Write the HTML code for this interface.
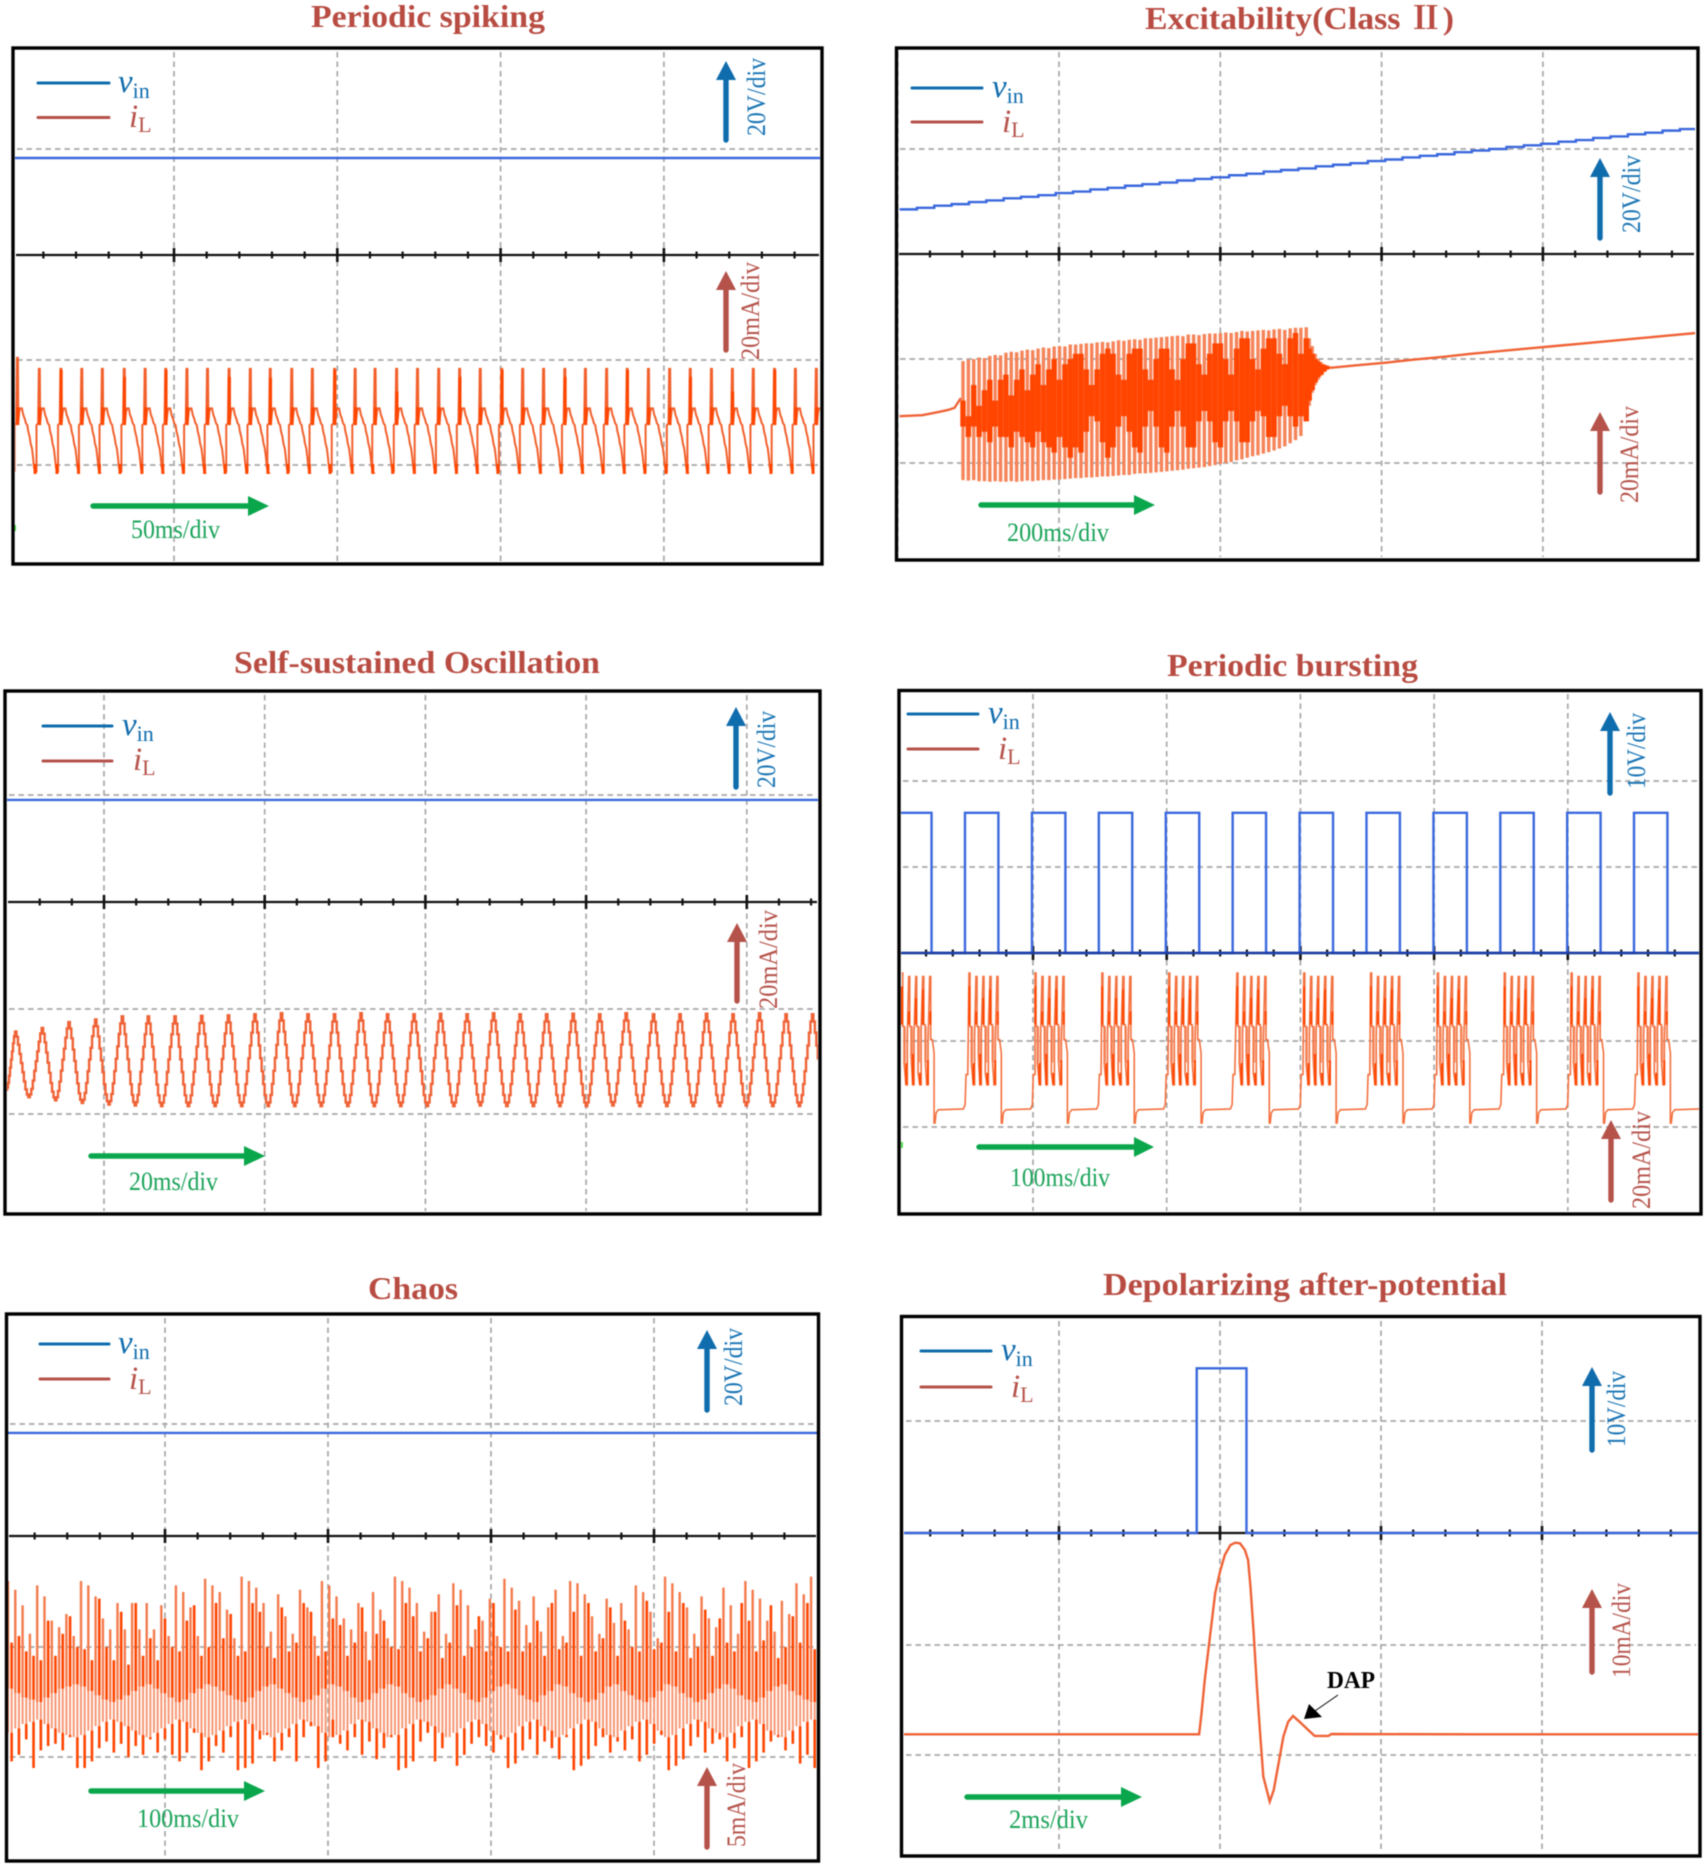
<!DOCTYPE html>
<html lang="en">
<head>
<meta charset="utf-8">
<title>Neuron-like oscilloscope waveforms</title>
<style>
html,body{margin:0;padding:0;background:#fff;}
svg{display:block;filter:blur(0.55px);}
text{font-family:"Liberation Serif","Noto Serif CJK SC",serif;}
.title{font-size:32px;font-weight:bold;fill:#b84c42;}
.frame{fill:none;stroke:#000;stroke-width:3.4;}
.leg{stroke-width:3;stroke-linecap:round;}
.blue{stroke:#0f6cad;fill:#0f6cad;}
.red{stroke:#b5524a;fill:#b5524a;}
.green{stroke:#0aa64c;fill:#0aa64c;}
.sym{font-size:33px;font-style:italic;}
.sub{font-size:22px;font-style:normal;}
.shaft{stroke-width:5.4;stroke-linecap:round;}
.head{stroke:none;}
.lbl{font-size:26px;}
.grid{fill:none;stroke:#a8a8a8;stroke-width:1.7;stroke-dasharray:5.5 4;}
.axis{fill:none;stroke:#111;stroke-width:2.2;}
.tick{fill:none;stroke:#111;stroke-width:2.2;}
.tick-major{fill:none;stroke:#111;stroke-width:2.6;}
.vin{fill:none;stroke:#3a68dd;stroke-width:2.4;}
.vin-low{fill:none;stroke:#1c3fa6;stroke-width:2.6;}
.il{fill:none;stroke:#f2602c;stroke-width:2;}
.il-wide{fill:none;stroke:#ef6236;stroke-width:2.4;}
.il-burst{fill:none;stroke:#f3713f;stroke-width:1.6;}
.il-burst-dark{fill:none;stroke:#ff4500;stroke-width:2;}
.il-burst-mid{fill:none;stroke:#f58a60;stroke-width:1.6;}
.il-thick{fill:none;stroke:#ff4500;stroke-width:3;}
.il-light{fill:none;stroke:#f5845a;stroke-width:3.4;}
.il-fill{fill:none;stroke:#ff4500;stroke-width:5.4;}
.il-dark{fill:none;stroke:#ff4500;stroke-width:2.6;}
.il-chaos{fill:none;stroke:#f47a4c;stroke-width:2.4;}
.il-chaos-mid{fill:none;stroke:#f69470;stroke-width:1.9;}
.mark{stroke:#55e055;stroke-width:2;}
</style>
</head>
<body>
<svg width="1705" height="1866" viewBox="0 0 1705 1866">
<defs>
<clipPath id="clip-a"><rect x="15" y="50" width="805" height="512"/></clipPath>
<clipPath id="clip-b"><rect x="898" y="50" width="797" height="508"/></clipPath>
<clipPath id="clip-c"><rect x="7" y="693" width="811" height="519"/></clipPath>
<clipPath id="clip-d"><rect x="901" y="692" width="798" height="520"/></clipPath>
<clipPath id="clip-e"><rect x="8" y="1316" width="809" height="543"/></clipPath>
<clipPath id="clip-f"><rect x="904" y="1319" width="794" height="535"/></clipPath>
</defs>

<g>
<text class="title" x="311" y="27" textLength="234" lengthAdjust="spacingAndGlyphs">Periodic spiking</text>
<g id="a-scope"></g>
<g id="a-trace" clip-path="url(#clip-a)"></g>
<line class="mark" x1="15" y1="525" x2="15" y2="531"/>
<rect class="frame" x="13" y="48" width="809" height="516"/>
<g>
<line class="leg blue" x1="38" y1="83" x2="109" y2="83"/>
<line class="leg red" x1="38" y1="117.5" x2="109" y2="117.5"/>
<text class="sym" x="118" y="92" fill="#0f6cad">v<tspan class="sub" dy="6">in</tspan></text>
<text class="sym" x="129" y="127" fill="#b5524a">i<tspan class="sub" dy="5">L</tspan></text>
</g>
<g><line class="shaft blue" x1="726" y1="140" x2="726" y2="80"/><polygon class="head blue" points="726,61 716,80 736,80"/></g>
<text class="lbl" transform="translate(765,136) rotate(-90)" fill="#1a75b5" textLength="78" lengthAdjust="spacingAndGlyphs">20V/div</text>
<g><line class="shaft red" x1="726" y1="350" x2="726" y2="290"/><polygon class="head red" points="726,271 716,290 736,290"/></g>
<text class="lbl" transform="translate(759,360) rotate(-90)" fill="#b5524a" textLength="98" lengthAdjust="spacingAndGlyphs">20mA/div</text>
<g><line class="shaft green" x1="93" y1="506" x2="248" y2="506"/><polygon class="head green" points="269,506 248,496 248,516"/></g>
<text class="lbl" x="131" y="538" fill="#1ba35a" textLength="89" lengthAdjust="spacingAndGlyphs">50ms/div</text>
</g>

<g>
<text class="title" x="1145" y="29" textLength="309" lengthAdjust="spacingAndGlyphs">Excitability(Class Ⅱ)</text>
<g id="b-scope"></g>
<g id="b-trace" clip-path="url(#clip-b)"></g>
<rect class="frame" x="896.5" y="48" width="801.5" height="512"/>
<g>
<line class="leg blue" x1="912" y1="88" x2="982" y2="88"/>
<line class="leg red" x1="912" y1="122" x2="982" y2="122"/>
<text class="sym" x="992" y="97" fill="#0f6cad">v<tspan class="sub" dy="6">in</tspan></text>
<text class="sym" x="1002" y="132" fill="#b5524a">i<tspan class="sub" dy="5">L</tspan></text>
</g>
<g><line class="shaft blue" x1="1600" y1="238" x2="1600" y2="177"/><polygon class="head blue" points="1600,158 1590,177 1610,177"/></g>
<text class="lbl" transform="translate(1640,233) rotate(-90)" fill="#1a75b5" textLength="78" lengthAdjust="spacingAndGlyphs">20V/div</text>
<g><line class="shaft red" x1="1600" y1="492" x2="1600" y2="431"/><polygon class="head red" points="1600,412 1590,431 1610,431"/></g>
<text class="lbl" transform="translate(1638,503) rotate(-90)" fill="#b5524a" textLength="97" lengthAdjust="spacingAndGlyphs">20mA/div</text>
<g><line class="shaft green" x1="981" y1="505" x2="1134" y2="505"/><polygon class="head green" points="1155,505 1134,495 1134,515"/></g>
<text class="lbl" x="1007" y="541" fill="#1ba35a" textLength="102" lengthAdjust="spacingAndGlyphs">200ms/div</text>
</g>

<g>
<text class="title" x="234" y="673" textLength="366" lengthAdjust="spacingAndGlyphs">Self-sustained Oscillation</text>
<g id="c-scope"></g>
<g id="c-trace" clip-path="url(#clip-c)"></g>
<rect class="frame" x="5" y="691" width="815" height="523"/>
<g>
<line class="leg blue" x1="43" y1="726" x2="112" y2="726"/>
<line class="leg red" x1="43" y1="761" x2="112" y2="761"/>
<text class="sym" x="122" y="735" fill="#0f6cad">v<tspan class="sub" dy="6">in</tspan></text>
<text class="sym" x="133" y="770" fill="#b5524a">i<tspan class="sub" dy="5">L</tspan></text>
</g>
<g><line class="shaft blue" x1="736" y1="787" x2="736" y2="726"/><polygon class="head blue" points="736,707 726,726 746,726"/></g>
<text class="lbl" transform="translate(775,788) rotate(-90)" fill="#1a75b5" textLength="77" lengthAdjust="spacingAndGlyphs">20V/div</text>
<g><line class="shaft red" x1="737" y1="1001" x2="737" y2="942"/><polygon class="head red" points="737,923 727,942 747,942"/></g>
<text class="lbl" transform="translate(777,1009) rotate(-90)" fill="#b5524a" textLength="99" lengthAdjust="spacingAndGlyphs">20mA/div</text>
<g><line class="shaft green" x1="91" y1="1156" x2="244" y2="1156"/><polygon class="head green" points="265,1156 244,1146 244,1166"/></g>
<text class="lbl" x="129" y="1190" fill="#1ba35a" textLength="89" lengthAdjust="spacingAndGlyphs">20ms/div</text>
</g>

<g>
<text class="title" x="1167" y="676" textLength="251" lengthAdjust="spacingAndGlyphs">Periodic bursting</text>
<g id="d-scope"></g>
<g id="d-trace" clip-path="url(#clip-d)"></g>
<line class="mark" x1="902" y1="1142" x2="902" y2="1148"/>
<rect class="frame" x="899" y="690.5" width="802" height="523.5"/>
<g>
<line class="leg blue" x1="908" y1="714" x2="978" y2="714"/>
<line class="leg red" x1="908" y1="749" x2="978" y2="749"/>
<text class="sym" x="988" y="723" fill="#0f6cad">v<tspan class="sub" dy="6">in</tspan></text>
<text class="sym" x="998" y="759" fill="#b5524a">i<tspan class="sub" dy="5">L</tspan></text>
</g>
<g><line class="shaft blue" x1="1610" y1="793" x2="1610" y2="731"/><polygon class="head blue" points="1610,712 1600,731 1620,731"/></g>
<text class="lbl" transform="translate(1645,789) rotate(-90)" fill="#1a75b5" textLength="76" lengthAdjust="spacingAndGlyphs">10V/div</text>
<g><line class="shaft red" x1="1611" y1="1200" x2="1611" y2="1139"/><polygon class="head red" points="1611,1120 1601,1139 1621,1139"/></g>
<text class="lbl" transform="translate(1650,1209) rotate(-90)" fill="#b5524a" textLength="98" lengthAdjust="spacingAndGlyphs">20mA/div</text>
<g><line class="shaft green" x1="979" y1="1147" x2="1134" y2="1147"/><polygon class="head green" points="1154,1147 1134,1137 1134,1157"/></g>
<text class="lbl" x="1010" y="1186" fill="#1ba35a" textLength="100" lengthAdjust="spacingAndGlyphs">100ms/div</text>
</g>

<g>
<text class="title" x="368" y="1299" textLength="90" lengthAdjust="spacingAndGlyphs">Chaos</text>
<g id="e-scope"></g>
<g id="e-trace" clip-path="url(#clip-e)"></g>
<rect class="frame" x="6.5" y="1314" width="812" height="547"/>
<g>
<line class="leg blue" x1="40" y1="1344" x2="109" y2="1344"/>
<line class="leg red" x1="40" y1="1379" x2="109" y2="1379"/>
<text class="sym" x="118" y="1353" fill="#0f6cad">v<tspan class="sub" dy="6">in</tspan></text>
<text class="sym" x="129" y="1389" fill="#b5524a">i<tspan class="sub" dy="5">L</tspan></text>
</g>
<g><line class="shaft blue" x1="707" y1="1410" x2="707" y2="1349"/><polygon class="head blue" points="707,1330 697,1349 717,1349"/></g>
<text class="lbl" transform="translate(742,1406) rotate(-90)" fill="#1a75b5" textLength="78" lengthAdjust="spacingAndGlyphs">20V/div</text>
<g><line class="shaft red" x1="707" y1="1847" x2="707" y2="1786"/><polygon class="head red" points="707,1767 697,1786 717,1786"/></g>
<text class="lbl" transform="translate(745,1847) rotate(-90)" fill="#b5524a" textLength="84" lengthAdjust="spacingAndGlyphs">5mA/div</text>
<g><line class="shaft green" x1="91" y1="1791" x2="244" y2="1791"/><polygon class="head green" points="265,1791 244,1781 244,1801"/></g>
<text class="lbl" x="137" y="1827" fill="#1ba35a" textLength="102" lengthAdjust="spacingAndGlyphs">100ms/div</text>
</g>

<g>
<text class="title" x="1103" y="1295" textLength="404" lengthAdjust="spacingAndGlyphs">Depolarizing after-potential</text>
<g id="f-scope"></g>
<g id="f-trace" clip-path="url(#clip-f)"></g>
<rect class="frame" x="901.5" y="1316.5" width="798.5" height="539.5"/>
<g>
<line class="leg blue" x1="921" y1="1351" x2="991" y2="1351"/>
<line class="leg red" x1="921" y1="1387" x2="991" y2="1387"/>
<text class="sym" x="1001" y="1360" fill="#0f6cad">v<tspan class="sub" dy="6">in</tspan></text>
<text class="sym" x="1011" y="1397" fill="#b5524a">i<tspan class="sub" dy="5">L</tspan></text>
</g>
<g><line class="shaft blue" x1="1592" y1="1450" x2="1592" y2="1386"/><polygon class="head blue" points="1592,1367 1582,1386 1602,1386"/></g>
<text class="lbl" transform="translate(1625,1447) rotate(-90)" fill="#1a75b5" textLength="76" lengthAdjust="spacingAndGlyphs">10V/div</text>
<g><line class="shaft red" x1="1592" y1="1672" x2="1592" y2="1608"/><polygon class="head red" points="1592,1589 1582,1608 1602,1608"/></g>
<text class="lbl" transform="translate(1630,1678) rotate(-90)" fill="#b5524a" textLength="95" lengthAdjust="spacingAndGlyphs">10mA/div</text>
<g><line class="shaft green" x1="967" y1="1797" x2="1121" y2="1797"/><polygon class="head green" points="1142,1797 1121,1787 1121,1807"/></g>
<text class="lbl" x="1009" y="1828" fill="#1ba35a" textLength="79" lengthAdjust="spacingAndGlyphs">2ms/div</text>
<text x="1327" y="1688" font-size="24" font-weight="bold" fill="#000" textLength="48" lengthAdjust="spacingAndGlyphs">DAP</text>
<g><line x1="1338" y1="1695" x2="1312" y2="1713" stroke="#000" stroke-width="1"/><polygon points="1304,1719 1309,1704 1322,1717" fill="#000"/></g>
</g>
</svg>

<script>
/* ---------- Periodic spiking: times in ms, currents in mA, voltage in V ---------- */
const spikingVinVolts = 18.3;
const spikingTimes = [0.7,7.4,14,20.4,26.7,33.4,39.8,46.1,52.6,58.9,65.5,72,78.1,84.7,91,97.8,104.1,110.2,116.8,123.2,129.7,136.1,142.4,149,155.4,161.8,168.3,174.6,181.1,187.4,193.9,200.4,206.7,213.2,219.6,226,232.5,238.9,245.3,251.8];
const spikingTops = [20.4,18.3,18.3,18.3,18.3,18.3,18.3,18.3,18.3,18.3,18.3,18.3,18.3,18.3,18.3,18.3,18.3,18.3,18.3,18.3,18.3,18.3,18.3,18.3,18.3,18.3,18.3,18.3,18.3,18.3,18.3,18.3,18.3,18.3,18.3,18.3,18.3,18.3,18.3,18.3];
const spikingThickTops = [11,11,18.1,11,11,16.8,11,18.1,11,11,16.8,11,16.6,11,11,18.1,11,11,14,11,11,16.8,11,18.1,11,11,16.8,11,11,18.1,11,11,16.8,11,14,11,18.1,11,11,16.8];
const spikeShapeMs = [-0.82,-0.82,-0.31,-0.1,0.2,0.31,0.61,0.92,1.43,1.84,2.24,2.65,3.06,3.37,3.78,4.08,4.49,4.8,5.1,5.41,5.61];
const spikeShapeMa = [-1.27,7.62,7.94,null,null,8.25,10.16,10.79,10.79,9.52,8.89,7.94,7.62,6.35,5.4,4.13,3.17,1.59,-0.32,-1.46,-1.46];

/* ---------- Excitability (Class II) ---------- */
const rampVinVolts = [8.5,8.8,9.2,9.5,9.9,10.2,10.6,10.9,11.2,11.6,11.9,12.3,12.6,13,13.3,13.6,14,14.3,14.6,15,15.3,15.7,16,16.3,16.7,17,17.3,17.7,18,18.4,18.7,19,19.4,19.7,20,20.4,20.7,21,21.4,21.7,22.1,22.4,22.8,23.1,23.5,23.8,24.2];
const rampVinStepMs = 21.5;
const restBeforeMs = [2,30,50,62,70,78];
const restBeforeMa = [9,9.2,9.8,10.2,10.6,12.5];
const restAfterMs = [536,570,605,640,675,710,745,780,815,850,885,920,955,990];
const restAfterMa = [18.3,18.8,19.3,19.9,20.4,21,21.5,22,22.5,23,23.5,24,24.5,25];
const classTwoTops = [19.6,19.9,20,20.3,20.2,20.6,20.8,20.7,21.2,21.4,21.3,21.6,21.8,21.7,22,22.2,22.1,22.4,22.5,22.4,22.8,22.8,22.9,23,23,23.2,23.3,23.2,23.4,23.6,23.5,23.7,23.8,23.7,24,24,24.1,24.2,24.3,24.4,24.5,24.4,24.7,24.7,24.6,24.8,24.9,24.9,25,25.1,25,25.2,25.4,25.3,25.4,25.5,25.6,25.5,25.7,25.8,25.6,25.9,26,26,26.1,24,22.5,21,20,19.4,19,18.8,18.6];
const classTwoBottoms = [-3.3,-3.4,-3.3,-3.5,-3.5,-3.6,-3.5,-3.6,-3.6,-3.5,-3.6,-3.5,-3.4,-3.5,-3.4,-3.3,-3.3,-3.2,-3.2,-3.1,-3,-2.9,-2.9,-2.8,-2.8,-2.7,-2.6,-2.6,-2.5,-2.4,-2.3,-2.3,-2.1,-2,-2,-1.9,-1.8,-1.7,-1.6,-1.5,-1.4,-1.3,-1.1,-1,-0.9,-0.8,-0.6,-0.4,-0.2,0,0.2,0.5,0.7,1,1.3,1.5,1.8,2.1,2.4,2.8,3.2,3.8,4.4,5.2,8,11,13.5,15,16,16.8,17.5,18,18.3];
const classTwoInnerTops = [12,9,15,11,14,16,12,16,17,13,16,18,14,17,19,15,18,20,16,19,20,21,21,18,15,18,21,22,21,17,16,21,22,22,18,16,20,22,22,18,16,20,23,23,19,17,21,23,23,20,17,22,24,24,20,18,22,24,24,21,19,24,25,21,24,22,21,20,19.5,19,18.8,18.6,18.4];
const classTwoInnerBottoms = [7,5,7,5,6,4,7,5,5,3,6,5,4,3,6,4,3,2,5,3,1,3,2,6,9,8,4,1,3,7,9,6,3,2,7,10,7,3,2,7,10,7,3,3,8,10,8,4,3,8,10,8,4,4,8,10,9,5,5,9,11,9,7,9,8,12,14,15.5,16.5,17,17.6,18,18.3];
const classTwoStartMs = 80.6;
const classTwoPeriodMs = 6.65;
const classTwoDecayPeriodMs = 3.7;
const classTwoSteadySpikes = 64;

/* ---------- Self-sustained oscillation ---------- */
const oscillationVinVolts = 19.07;
const oscillationStartMa = 4.6;
const oscillationPeakMs = [1.12,4.44,7.76,11.08,14.4,17.63,20.95,24.27,27.6,30.9,34.2,37.5,40.8,44.1,47.4,50.7,54,57.3,60.6,63.9,67.2,70.5,73.8,77.1,80.5,83.8,87.1,90.4,93.7,97,100.3,103.6];
const oscillationPeakMa = [15.7,16.4,17.5,18,18.6,18.6,18.6,18.7,18.8,19,19.2,19,19,19.2,19,19,19.1,19,19.2,19,19,19.1,19,19.2,19,19,19.1,19,19.2,19,19,19];
const oscillationTroughMa = [3.2,2.6,2.1,1.8,1.6,1.5,1.5,1.5,1.5,1.5,1.5,1.5,1.5,1.5,1.5,1.5,1.5,1.6,1.5,1.5,1.5,1.5,1.6,1.5,1.5,1.5,1.5,1.6,1.5,1.5,1.5,1.5];
const oscillationCycleShape = [1,0.92,0.8,0.66,0.52,0.38,0.24,0.12,0.04,0];

/* ---------- Periodic bursting ---------- */
const pulseStartMs = [-1.4,48.6,98.7,148.7,198.8,248.8,298.9,348.9,399,449,499,549];
const pulseEndMs = [23.6,73.6,123.7,173.7,223.8,273.8,323.9,373.9,424,474,524,574];
const pulseHighVolts = 16.3;
const burstStartMs = [1.3,51.6,101,151,201,252,302,352,402,452,502,552];
const burstShapeMs = [0,0.75,0.75,1.75,1.75,3.2,4.2,4.2,5.2,6,6,7,7,8.2,9.2,9.2,10.5,11.2,11.2,12.2,12.2,13.5,14.5,14.5,15.7,16.5,16.5,17.5,17.5,18.7,19.7,19.7,20.9,21.7,21.7,22.9,24.2,24.2,24.9,25.7,27.4,46.1,47.4,48.1,49.4];
const burstShapeMa = [35.8,35.8,23.4,23.4,14.9,9.8,9.8,21.1,35,35,23.4,23.4,16.4,9.8,9.8,21.9,35,35,23.4,23.4,12.6,9.8,9.8,22.6,35,35,23.8,23.8,15.7,9.8,9.8,19.5,35,35,20.3,20.3,17.2,0.9,0.9,3.3,4,4.2,5.2,12.2,12.2];
const burstDarkMs = [0.2,5.4,10.7,15.9,21.5,3.4,8.4,13.7,19.6];
const burstDarkTopMa = [32.7,26.9,30,32,26.9,14.9,17,12.6,15.5];
const burstDarkBottomMa = [23.8,23.8,23.8,23.8,23.8,9.8,9.8,9.8,9.8];
const burstMidMs = [2.5,7.8,13,18.2];
const burstMidTopMa = [23.4,23.4,23.4,23.4];
const burstMidBottomMa = [15,15,15,15];

/* ---------- Chaos ---------- */
const chaosVinVolts = 18.4;
const chaosPeriodMs = 4.49;
const chaosCentreMa = 2.1;
const chaosTops = [8,7.6,6.9,5.6,7.8,7.3,6.2,5.9,6.5,5.5,8,7.8,7.3,6.3,5.8,7,5.8,7,5.8,7,5.8,6.9,5.5,7.8,7.5,6.8,5.5,8.1,7.8,7.5,6.7,5.4,8.2,8,7.7,7,5.7,7.4,6.4,5.6,7.6,6.8,5.5,8,7.8,7.3,6.3,5.8,7,5.7,7.5,6.7,5.4,8.2,8,7.7,7,5.7,6.6,7.4,5.6,7.9,7.6,6.9,5.8,6.2,7.2,5.5,8.1,7.7,7.1,6,7.3,5.7,6.8,7.6,5.5,8,7.9,7.4,6.4,5.6,7.2,6.1,7,5.8,7.8,7.5,6.6,5.4,8.2,7.9,7.5,6.8,5.6,7.3,6.3,5.9,7.7,6.9,5.6,8,7.6,7.2,6.2,5.7,7.1,6.5,7.9,7.4,8.2];
const chaosBottoms = [-0.2,0.1,0.8,-0.5,0.3,0.5,0.6,0.3,0.9,-0.5,-0.5,-0.2,0.4,0.7,0.2,0.6,0,0.5,0.1,0.8,0.2,0.8,0.1,-0.2,0.2,1.1,-0.6,-0.2,0.5,0.2,0.9,-0.6,-0.5,-0.3,0.8,1.1,-0.2,0.3,0.9,-0.2,0.9,1.4,-0.5,-0.2,1.7,0.6,0.3,0.9,0.1,0.7,-0.1,0.4,1,-0.6,-0.5,-0.2,0.7,1.1,-0.2,0.4,0.9,-0.4,0.1,0.6,0.9,0.5,0.2,0.8,-0.5,-0.3,0.3,0.8,0.1,0.7,0.4,-0.1,0.9,-0.6,-0.4,-0.1,0.5,0.9,0.2,0.7,0.3,0.8,-0.2,0.1,0.6,1,-0.6,-0.4,-0.1,0.5,0.9,0.2,0.6,0.8,-0.2,0.4,0.9,-0.5,-0.2,0.2,0.7,0.9,0.3,0.6,-0.3,0.1,-0.5];
const chaosDarkTops = [5.2,5.5,4.8,4.6,4.4,6.2,4.6,5.6,6.4,5,4.9,4.4,7.2,5,4.4,6.6,4.2,7,4.6,5.4,4.4,6.3,5,4.8,6.2,6.9,4.6,5,7,5.4,6.5,4.6,4.8,7,6.6,5,4.5,6.8,4.8,5.2,7,6.6,4.6,4.8,6.3,6,4.6,5.2,6.8,4.4,5.6,6.2,5,4.9,7,6.4,4.8,5.4,6.6,4.5,5.2,6.9,4.6,5,6.4,4.8,7,5,4.8,6.7,4.8,5.2,6.2,4.6,7,4.9,5.2,6.6,4.6,7,4.8,5.4,6.8,4.6,6.2,5,4.8,7.1,4.9,5.2,6.6,4.8,7,4.5,5,6.7,4.6,6.3,5.2,4.8,7,6.2,4.8,5.3,6.9,4.5,5,6.4,5.2,7,4.9];
const chaosMidHighs = [3.1,2.9,2.7,2.6,2.5,2.7,2.9,3.1,3.2,3.3,3.2,3,2.8,2.6,2.5,2.6,2.8,3,3.2,3.3,3.1,2.9,2.7,2.5,2.6,2.9,3.1,3.3,3.2,3,2.8,2.6,2.5,2.7,3,3.2,3.3,3.1,2.9,2.7,2.5,2.6,2.8,3.1,3.3,3.2,3,2.7,2.5,2.6,2.9,3.1,3.3,3.2,2.9,2.7,2.5,2.6,2.8,3.1,3.3,3.1,2.9,2.6,2.5,2.7,3,3.2,3.3,3.1,2.8,2.6,2.5,2.8,3,3.3,3.2,2.9,2.7,2.5,2.6,2.9,3.2,3.3,3,2.8,2.6,2.5,2.7,3,3.3,3.2,2.9,2.7,2.5,2.6,2.9,3.1,3.3,3.1,2.8,2.6,2.5,2.7,3,3.2,3.3,3,2.8,2.6,2.5];

/* ---------- Depolarizing after-potential ---------- */
const dapVinMs = [0,3.66,3.66,4.28,4.28,9.93];
const dapVinVolts = [0,0,14.7,14.7,0,0];
const dapCurrentMs = [0,3.45,3.69,3.72,3.76,3.81,3.85,3.89,3.95,4.01,4.08,4.14,4.2,4.26,4.3,4.33,4.37,4.41,4.45,4.49,4.57,4.62,4.68,4.74,4.8,4.86,4.94,5.05,5.13,5.3,5.34,7.19,9.93];
const dapCurrentMa = [1.88,1.88,1.88,3.79,6.82,9.85,12.27,14.7,16.67,18.18,19.09,19.3,19.24,18.64,17.73,15.3,11.06,6.21,1.97,-1.97,-4.24,-3.18,-0.76,1.67,3.03,3.55,3.03,2.27,1.73,1.73,1.91,1.88,1.88];

/* ---------- Axis functions ---------- */
const xA = t => 15 + t * 3.266;
const yAi = i => 465 - i * 5.25;
const yAv = v => 255 - v * 5.3;
const xB = t => 898 + t * 0.8065;
const yBi = i => 463 - i * 5.2;
const yBv = v => 254 - v * 5.25;
const xC = t => 6 + t * 8.035;
const yCi = i => 1114 - i * 5.25;
const yCv = v => 902 - v * 5.35;
const xD = t => 900 + t * 1.337;
const yDi = i => 1127 - i * 4.3;
const yDv = v => 953 - v * 8.6;
const xE = t => 8 + t * 1.626;
const yEi = i => 1757 - i * 22;
const yEv = v => 1536 - v * 5.6;
const xF = t => 903 + t * 80.25;
const yFi = i => 1755 - i * 11;
const yFv = v => 1533 - v * 11.2;

const SVG_NS = 'http://www.w3.org/2000/svg';

function addPath(group, d, cls, name) {
  const el = document.createElementNS(SVG_NS, 'path');
  el.setAttribute('d', d);
  el.setAttribute('class', cls);
  
  
  group.appendChild(el);
  return el;
}

function fx(n) { return n.toFixed(2); }

function stairs(xs, ys) {
  let d = 'M' + fx(xs[0]) + ' ' + fx(ys[0]);
  for (let i = 1; i < xs.length; i++) {
    d += 'H' + fx(xs[i]) + 'V' + fx(ys[i]);
  }
  return d;
}

function polyline(xs, ys) {
  let d = 'M' + fx(xs[0]) + ' ' + fx(ys[0]);
  for (let i = 1; i < xs.length; i++) {
    d += 'L' + fx(xs[i]) + ' ' + fx(ys[i]);
  }
  return d;
}

function drawScope(id, left, right, top, bottom, axisY, originX, divPx, gridYs) {
  const g = document.getElementById(id);
  gridYs.forEach(function (y) {
    addPath(g, 'M' + (left + 3) + ' ' + y + 'H' + (right - 3), 'grid', 'horizontal-grid-line');
  });
  let start = originX;
  while (start - divPx > left) { start -= divPx; }
  for (let x = start; x < right - 4; x += divPx) {
    addPath(g, 'M' + fx(x) + ' ' + (top + 4) + 'V' + (bottom - 3), 'grid', 'vertical-grid-line');
  }
  addPath(g, 'M' + (left + 2) + ' ' + axisY + 'H' + (right - 2), 'axis', 'time-axis-line');
  for (let k = -10; k < 60; k++) {
    const x = start + k * divPx / 5 - divPx;
    if (x < left + 6 || x > right - 6) { continue; }
    const major = ((k % 5) + 5) % 5 === 0;
    const half = major ? 7 : 3.5;
    addPath(g, 'M' + fx(x) + ' ' + (axisY - half) + 'V' + (axisY + half), major ? 'tick-major' : 'tick', 'time-axis-tick');
  }
}

drawScope('a-scope', 14, 821, 48, 564, 255, 174, 163.3, [yAv(20), yAi(20), yAi(0)]);
drawScope('b-scope', 897, 1696, 48, 560, 254, 1059, 161.3, [yBv(20), yBi(20), yBi(0)]);
drawScope('c-scope', 6, 819, 691, 1214, 902, 104, 160.7, [yCv(20), yCi(20), yCi(0)]);
drawScope('d-scope', 900, 1700, 690, 1214, 953, 1033, 133.7, [yDv(20), yDv(10), yDi(20), yDi(0)]);
drawScope('e-scope', 7, 818, 1314, 1861, 1536, 165, 163, [yEv(20), yEi(5), yEi(0)]);
drawScope('f-scope', 903, 1699, 1317, 1856, 1533, 1059, 161, [yFv(10), yFi(10), yFi(0)]);

/* Periodic spiking traces */
(function () {
  const g = document.getElementById('a-trace');
  addPath(g, 'M' + xA(0) + ' ' + fx(yAv(spikingVinVolts)) + 'H' + xA(250), 'vin', 'vin-trace');
  const xs = [], ys = [];
  spikingTimes.forEach(function (t, k) {
    spikeShapeMs.forEach(function (dt, j) {
      xs.push(xA(t + dt));
      ys.push(yAi(spikeShapeMa[j] === null ? spikingTops[k] : spikeShapeMa[j]));
    });
  });
  addPath(g, polyline(xs, ys), 'il', 'il-trace');
  spikingTimes.forEach(function (t, k) {
    addPath(g, 'M' + fx(xA(t + 0.15)) + ' ' + fx(yAi(spikingThickTops[k])) + 'V' + fx(yAi(7.6)), 'il-thick', 'il-spike-thick-segment');
    addPath(g, 'M' + fx(xA(t + 5.45)) + ' ' + fx(yAi(-1.7)) + 'V' + fx(yAi(0.2)), 'il-thick', 'il-trough-thick-segment');
  });
})();

/* Excitability traces */
(function () {
  const g = document.getElementById('b-trace');
  addPath(g, stairs(rampVinVolts.map(function (v, k) { return xB(k * rampVinStepMs + 2); }), rampVinVolts.map(yBv)), 'vin', 'vin-ramp-trace');
  addPath(g, polyline(restBeforeMs.map(xB), restBeforeMa.map(yBi)), 'il-wide', 'il-rest-before-burst');
  addPath(g, polyline(restAfterMs.map(xB), restAfterMa.map(yBi)), 'il-wide', 'il-rest-after-burst');
  function spikeTime(k) {
    if (k <= classTwoSteadySpikes) { return classTwoStartMs + k * classTwoPeriodMs; }
    return classTwoStartMs + classTwoSteadySpikes * classTwoPeriodMs + (k - classTwoSteadySpikes) * classTwoDecayPeriodMs;
  }
  classTwoTops.forEach(function (top, k) {
    const x = fx(xB(spikeTime(k)));
    addPath(g, 'M' + x + ' ' + fx(yBi(top)) + 'V' + fx(yBi(classTwoBottoms[k])), 'il-light', 'il-spike');
  });
  classTwoInnerTops.forEach(function (top, k) {
    const x = fx(xB(spikeTime(k)));
    addPath(g, 'M' + x + ' ' + fx(yBi(top)) + 'V' + fx(yBi(classTwoInnerBottoms[k])), 'il-fill', 'il-spike-dense-core');
  });
})();

/* Self-sustained oscillation traces */
(function () {
  const g = document.getElementById('c-trace');
  addPath(g, 'M' + xC(0) + ' ' + fx(yCv(oscillationVinVolts)) + 'H' + xC(102), 'vin', 'vin-trace');
  const xs = [], ys = [];
  const n = oscillationCycleShape.length;
  for (let j = n - 1; j >= 0; j--) {
    const share = (n - 1 - j) / (n - 1);
    xs.push(xC(oscillationPeakMs[0] * share));
    ys.push(yCi(oscillationStartMa + (oscillationPeakMa[0] - oscillationStartMa) * oscillationCycleShape[j]));
  }
  for (let k = 0; k < oscillationPeakMs.length - 1; k++) {
    const t0 = oscillationPeakMs[k], t1 = oscillationPeakMs[k + 1];
    const half = (t1 - t0) / 2;
    for (let j = 0; j < n; j++) {
      xs.push(xC(t0 + half * j / (n - 1)));
      ys.push(yCi(oscillationTroughMa[k] + (oscillationPeakMa[k] - oscillationTroughMa[k]) * oscillationCycleShape[j]));
    }
    for (let j = n - 1; j >= 0; j--) {
      xs.push(xC(t0 + half + half * (n - 1 - j) / (n - 1)));
      ys.push(yCi(oscillationTroughMa[k] + (oscillationPeakMa[k + 1] - oscillationTroughMa[k]) * oscillationCycleShape[j]));
    }
  }
  addPath(g, stairs(xs, ys), 'il-wide', 'il-trace');
})();

/* Periodic bursting traces */
(function () {
  const g = document.getElementById('d-trace');
  const vx = [], vy = [];
  pulseStartMs.forEach(function (t, k) {
    vx.push(xD(t), xD(t), xD(pulseEndMs[k]), xD(pulseEndMs[k]));
    vy.push(yDv(0), yDv(pulseHighVolts), yDv(pulseHighVolts), yDv(0));
  });
  vx.push(xD(600));
  vy.push(yDv(0));
  addPath(g, polyline(vx, vy), 'vin', 'vin-pulse-trace');
  addPath(g, 'M' + xD(0) + ' ' + yDv(0) + 'H' + xD(600), 'vin-low', 'vin-low-level');
  const ix = [], iy = [];
  burstStartMs.forEach(function (t) {
    burstShapeMs.forEach(function (dt, j) {
      ix.push(xD(t + dt));
      iy.push(yDi(burstShapeMa[j]));
    });
  });
  addPath(g, polyline(ix, iy), 'il-burst', 'il-trace');
  burstStartMs.forEach(function (t) {
    burstMidMs.forEach(function (dt, j) {
      addPath(g, 'M' + fx(xD(t + dt)) + ' ' + fx(yDi(burstMidTopMa[j])) + 'V' + fx(yDi(burstMidBottomMa[j])), 'il-burst-mid', 'il-burst-middle-stripe');
    });
    burstDarkMs.forEach(function (dt, j) {
      addPath(g, 'M' + fx(xD(t + dt)) + ' ' + fx(yDi(burstDarkTopMa[j])) + 'V' + fx(yDi(burstDarkBottomMa[j])), 'il-burst-dark', 'il-burst-thick-segment');
    });
  });
})();

/* Chaos traces */
(function () {
  const g = document.getElementById('e-trace');
  addPath(g, 'M' + xE(0) + ' ' + fx(yEv(chaosVinVolts)) + 'H' + xE(500), 'vin', 'vin-trace');
  chaosTops.forEach(function (top, k) {
    const t = k * chaosPeriodMs;
    const high = chaosMidHighs[k];
    const low = 2 * chaosCentreMa - high;
    const xLight = fx(xE(t));
    const xDark = fx(xE(t + chaosPeriodMs * 0.5));
    addPath(g, 'M' + xLight + ' ' + fx(yEi(top)) + 'V' + fx(yEi(high)), 'il-chaos', 'il-spike');
    addPath(g, 'M' + xLight + ' ' + fx(yEi(high)) + 'V' + fx(yEi(low)), 'il-chaos-mid', 'il-spike-middle');
    addPath(g, 'M' + xDark + ' ' + fx(yEi(high)) + 'V' + fx(yEi(low)), 'il-chaos-mid', 'il-spike-middle');
    addPath(g, 'M' + xDark + ' ' + fx(yEi(chaosDarkTops[k])) + 'V' + fx(yEi(high)), 'il-dark', 'il-spike-upper');
    addPath(g, 'M' + xDark + ' ' + fx(yEi(low)) + 'V' + fx(yEi(chaosBottoms[k])), 'il-dark', 'il-spike-lower');
  });
})();

/* Depolarizing after-potential traces */
(function () {
  const g = document.getElementById('f-trace');
  addPath(g, polyline(dapVinMs.map(xF), dapVinVolts.map(yFv)), 'vin', 'vin-pulse-trace');
  addPath(g, polyline(dapCurrentMs.map(xF), dapCurrentMa.map(yFi)), 'il-wide', 'il-trace');
})();
</script>
</body>
</html>
